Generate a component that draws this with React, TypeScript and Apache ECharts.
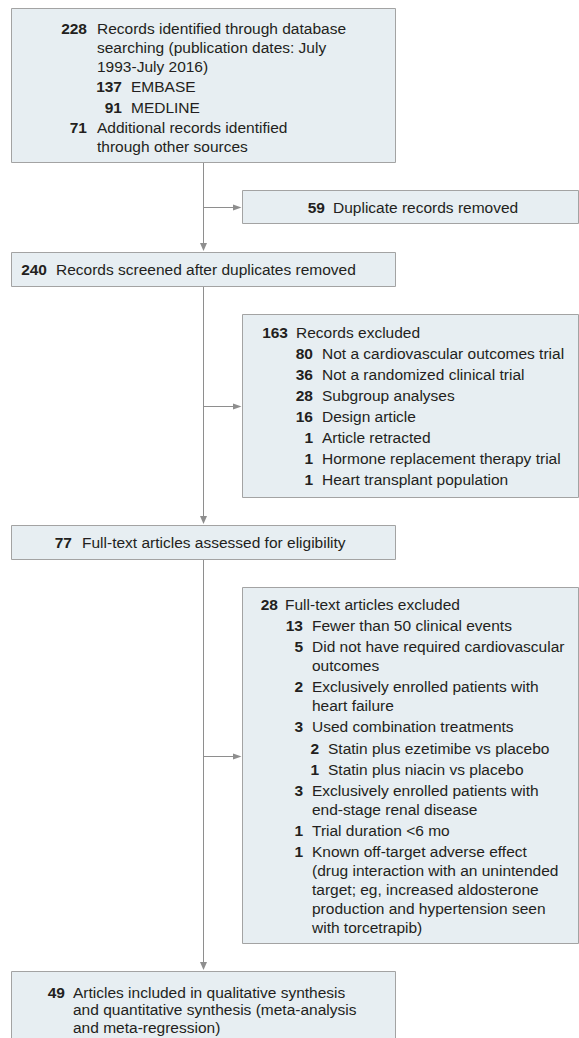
import React, { useEffect, useRef } from "react";
import * as echarts from "echarts";

// ---- Content (texts and counts) ----
type Item = { n: string; lines: string[]; lvl: number };

const identifiedItems: Item[] = [
  { n: "228", lines: ["Records identified through database", "searching (publication dates: July", "1993-July 2016)"], lvl: 0 },
  { n: "137", lines: ["EMBASE"], lvl: 1 },
  { n: "91", lines: ["MEDLINE"], lvl: 1 },
  { n: "71", lines: ["Additional records identified", "through other sources"], lvl: 0 },
];
const duplicateItems: Item[] = [{ n: "59", lines: ["Duplicate records removed"], lvl: 0 }];
const screenedItems: Item[] = [{ n: "240", lines: ["Records screened after duplicates removed"], lvl: 0 }];
const excludedItems: Item[] = [
  { n: "163", lines: ["Records excluded"], lvl: 0 },
  { n: "80", lines: ["Not a cardiovascular outcomes trial"], lvl: 1 },
  { n: "36", lines: ["Not a randomized clinical trial"], lvl: 1 },
  { n: "28", lines: ["Subgroup analyses"], lvl: 1 },
  { n: "16", lines: ["Design article"], lvl: 1 },
  { n: "1", lines: ["Article retracted"], lvl: 1 },
  { n: "1", lines: ["Hormone replacement therapy trial"], lvl: 1 },
  { n: "1", lines: ["Heart transplant population"], lvl: 1 },
];
const assessedItems: Item[] = [{ n: "77", lines: ["Full-text articles assessed for eligibility"], lvl: 0 }];
const fullTextExcludedItems: Item[] = [
  { n: "28", lines: ["Full-text articles excluded"], lvl: 0 },
  { n: "13", lines: ["Fewer than 50 clinical events"], lvl: 1 },
  { n: "5", lines: ["Did not have required cardiovascular", "outcomes"], lvl: 1 },
  { n: "2", lines: ["Exclusively enrolled patients with", "heart failure"], lvl: 1 },
  { n: "3", lines: ["Used combination treatments"], lvl: 1 },
  { n: "2", lines: ["Statin plus ezetimibe vs placebo"], lvl: 2 },
  { n: "1", lines: ["Statin plus niacin vs placebo"], lvl: 2 },
  { n: "3", lines: ["Exclusively enrolled patients with", "end-stage renal disease"], lvl: 1 },
  { n: "1", lines: ["Trial duration <6 mo"], lvl: 1 },
  { n: "1", lines: ["Known off-target adverse effect", "(drug interaction with an unintended", "target; eg, increased aldosterone", "production and hypertension seen", "with torcetrapib)"], lvl: 1 },
];
const includedItems: Item[] = [
  { n: "49", lines: ["Articles included in qualitative synthesis", "and quantitative synthesis (meta-analysis", "and meta-regression)"], lvl: 0 },
];

// ---- Styles ----
const FONT = "'Liberation Sans', Arial, sans-serif";
const FS = 15.5;
const TEXT = "#231f20";
const FILL = "#e7eef2";
const BORDER = "#a3a3a3";
const LINE = "#8e8e8e";

type Box = {
  x: number; y: number; w: number; h: number;
  items: Item[]; start: number; lineH: number; step: number;
  cols: [number, number][];
};

const boxes: Box[] = [
  { x: 11, y: 8, w: 384, h: 154, items: identifiedItems, start: 28, lineH: 19, step: 20.5, cols: [[87, 97], [122, 131]] },
  { x: 242, y: 190, w: 336, h: 33, items: duplicateItems, start: 207, lineH: 19, step: 21, cols: [[325, 333]] },
  { x: 11, y: 252, w: 384, h: 34, items: screenedItems, start: 269, lineH: 19, step: 21, cols: [[47, 56]] },
  { x: 242, y: 314, w: 336, h: 183, items: excludedItems, start: 332, lineH: 19, step: 21.1, cols: [[288, 296], [313, 322]] },
  { x: 11, y: 525, w: 384, h: 34, items: assessedItems, start: 542, lineH: 19, step: 21, cols: [[72, 82]] },
  { x: 242, y: 587, w: 336, h: 356, items: fullTextExcludedItems, start: 604, lineH: 19, step: 21.2, cols: [[278, 285], [303, 312], [319, 328]] },
  { x: 11, y: 971, w: 384, h: 80, items: includedItems, start: 992, lineH: 17.7, step: 21, cols: [[65, 73]] },
];

const VX = 203;
const verticals: [number, number][] = [[162, 252], [286, 525], [559, 971]];
const horizontals: number[] = [207, 406, 756];

function buildGraphics() {
  const els: any[] = [];
  // connectors
  verticals.forEach(([y1, y2]) => {
    els.push({ type: "line", z: 1, shape: { x1: VX + 0.5, y1, x2: VX + 0.5, y2: y2 - 7 }, style: { stroke: LINE, lineWidth: 1 } });
    els.push({ type: "polygon", z: 1, shape: { points: [[VX + 0.5, y2 - 1], [VX - 3, y2 - 9], [VX + 4, y2 - 9]] }, style: { fill: LINE } });
  });
  horizontals.forEach((y) => {
    els.push({ type: "line", z: 1, shape: { x1: VX + 0.5, y1: y + 0.5, x2: 235, y2: y + 0.5 }, style: { stroke: LINE, lineWidth: 1 } });
    els.push({ type: "polygon", z: 1, shape: { points: [[241.5, y + 0.5], [233, y - 2.5], [233, y + 3.5]] }, style: { fill: LINE } });
  });
  // boxes
  boxes.forEach((b) => {
    els.push({ type: "rect", z: 2, shape: { x: b.x + 0.5, y: b.y + 0.5, width: b.w, height: b.h }, style: { fill: FILL, stroke: BORDER, lineWidth: 1 } });
    let y = b.start;
    b.items.forEach((it, i) => {
      if (i > 0) y += b.step;
      const [nr, tx] = b.cols[it.lvl];
      els.push({ type: "text", z: 3, x: nr, y, style: { text: it.n, font: `bold ${FS}px ${FONT}`, fill: TEXT, align: "right", verticalAlign: "middle" } });
      it.lines.forEach((ln, j) => {
        if (j > 0) y += b.lineH;
        els.push({ type: "text", z: 3, x: tx, y, style: { text: ln, font: `${FS}px ${FONT}`, fill: TEXT, align: "left", verticalAlign: "middle" } });
      });
    });
  });
  return els;
}

export default function App() {
  const ref = useRef<HTMLDivElement>(null);
  useEffect(() => {
    if (!ref.current) return;
    const chart = echarts.init(ref.current, undefined, { renderer: "svg" });
    chart.setOption({ animation: false, backgroundColor: "#ffffff", graphic: { elements: buildGraphics() } });
    return () => chart.dispose();
  }, []);
  return <div ref={ref} style={{ position: "absolute", left: 0, top: 0, width: 579, height: 1038 }} />;
}
